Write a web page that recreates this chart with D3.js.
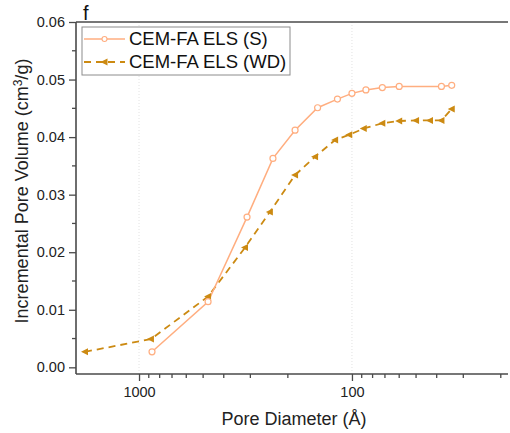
<!DOCTYPE html>
<html>
<head>
<meta charset="utf-8">
<script src="https://cdn.jsdelivr.net/npm/d3@7"></script>
<style>
  body { margin: 0; background: #fff; }
  svg { display: block; font-family: "Liberation Sans", Arial, sans-serif; }
</style>
</head>
<body>
<svg id="chart" width="510" height="433"></svg>
<script>
// pore diameter (Å) vs incremental pore volume (cm3/g)
const seriesNames = ['CEM-FA ELS (S)', 'CEM-FA ELS (WD)'];

const diamS = [869, 474, 311, 235, 185, 145, 117, 100, 86, 72, 60, 38, 34];
const volS  = [0.0027, 0.0114, 0.0261, 0.0363, 0.0412, 0.0451, 0.0466, 0.0476, 0.0482, 0.0486, 0.0488, 0.0488, 0.0490];

const diamWD = [1794, 879, 474, 318, 243, 185, 149, 120, 103, 88, 72, 60, 50, 43, 38, 34];
const volWD  = [0.0027, 0.0049, 0.0123, 0.0208, 0.0270, 0.0334, 0.0366, 0.0395, 0.0404, 0.0415, 0.0424, 0.0428, 0.0429, 0.0429, 0.0429, 0.0449];

const xMajorTicks = [1000, 100];
const yMajorTicks = [0, 0.01, 0.02, 0.03, 0.04, 0.05, 0.06];

const svg = d3.select('#chart');
const plotL = 76, plotR = 508, plotT = 22, plotB = 374;

const x = d3.scaleLog().domain([1977, 18.5]).range([plotL, plotR]);
const y = d3.scaleLinear().domain([-0.00116, 0.06]).range([plotB, plotT]);

const colS = '#ffae80';
const colWD = '#cc8a12';
const axisCol = '#4a4a4a';

// vertical grid at decades
svg.append('g')
  .selectAll('line')
  .data(xMajorTicks)
  .join('line')
  .attr('x1', (d) => x(d)).attr('x2', (d) => x(d))
  .attr('y1', plotT).attr('y2', plotB)
  .attr('stroke', '#e2e2e2').attr('stroke-width', 1)
  .attr('stroke-dasharray', '1,2');

// x minor ticks (2..9 per decade)
const xMinor = [];
for (const base of [10, 100, 1000]) {
  for (let k = 2; k <= 9; k++) {
    const v = base * k;
    if (v > 18.5 && v < 1977 && !xMajorTicks.includes(v)) xMinor.push(v);
  }
}

const xAxis = svg.append('g')
  .attr('transform', `translate(0,${plotB})`)
  .call(d3.axisBottom(x).tickValues(xMajorTicks).tickFormat(d3.format('d')).tickSize(7).tickPadding(6));
xAxis.append('g').selectAll('line')
  .data(xMinor)
  .join('line')
  .attr('x1', (d) => x(d)).attr('x2', (d) => x(d))
  .attr('y1', 0).attr('y2', 4);

const yMinor = d3.range(0.005, 0.06, 0.01);
const yAxis = svg.append('g')
  .attr('transform', `translate(${plotL},0)`)
  .call(d3.axisLeft(y).tickValues(yMajorTicks).tickFormat(d3.format('.2f')).tickSize(7).tickPadding(4));
yAxis.append('g').selectAll('line')
  .data(yMinor)
  .join('line')
  .attr('x1', 0).attr('x2', -4)
  .attr('y1', (d) => y(d)).attr('y2', (d) => y(d));

for (const g of [xAxis, yAxis]) {
  g.select('.domain').attr('stroke', axisCol).attr('stroke-width', 1.6);
  g.selectAll('line').attr('stroke', axisCol).attr('stroke-width', 1.3);
  g.selectAll('text').attr('fill', '#222').style('font-size', '14.5px');
}
// straight spines without end caps
xAxis.select('.domain').attr('d', `M${plotL},0H${plotR}`);
yAxis.select('.domain').attr('d', `M0,${plotT}V${plotB}`);

// top frame line
svg.append('line')
  .attr('x1', plotL).attr('x2', plotR)
  .attr('y1', plotT).attr('y2', plotT)
  .attr('stroke', axisCol).attr('stroke-width', 1.6);

// series
const dataS = diamS.map((d, i) => ({ d, v: volS[i] }));
const dataWD = diamWD.map((d, i) => ({ d, v: volWD[i] }));
const line = d3.line().x((p) => x(p.d)).y((p) => y(p.v));

svg.append('path')
  .datum(dataWD)
  .attr('d', line)
  .attr('fill', 'none')
  .attr('stroke', colWD)
  .attr('stroke-width', 1.8)
  .attr('stroke-dasharray', '7,5');

svg.append('path')
  .datum(dataS)
  .attr('d', line)
  .attr('fill', 'none')
  .attr('stroke', colS)
  .attr('stroke-width', 1.5);

const tri = 'M-4,0L3,-3.5L3,3.5Z';
svg.append('g').selectAll('path')
  .data(dataWD)
  .join('path')
  .attr('transform', (p) => `translate(${x(p.d)},${y(p.v)})`)
  .attr('d', tri)
  .attr('fill', colWD);

svg.append('g').selectAll('circle')
  .data(dataS)
  .join('circle')
  .attr('cx', (p) => x(p.d))
  .attr('cy', (p) => y(p.v))
  .attr('r', 3)
  .attr('fill', '#fff')
  .attr('stroke', colS)
  .attr('stroke-width', 1.2);

// legend
const leg = svg.append('g');
leg.append('rect')
  .attr('x', 82).attr('y', 27)
  .attr('width', 208).attr('height', 48)
  .attr('fill', '#fff')
  .attr('stroke', '#8c8c8c').attr('stroke-width', 1);

const legRows = [
  { name: seriesNames[0], col: colS, dash: null, y: 39 },
  { name: seriesNames[1], col: colWD, dash: '7,5', y: 62 },
];
legRows.forEach((r, i) => {
  leg.append('line')
    .attr('x1', 84).attr('x2', 125)
    .attr('y1', r.y).attr('y2', r.y)
    .attr('stroke', r.col)
    .attr('stroke-width', i === 0 ? 1.5 : 1.8)
    .attr('stroke-dasharray', r.dash);
  if (i === 0) {
    leg.append('circle')
      .attr('cx', 104.5).attr('cy', r.y).attr('r', 2.5)
      .attr('fill', '#fff').attr('stroke', r.col).attr('stroke-width', 1.1);
  } else {
    leg.append('path')
      .attr('transform', `translate(104.5,${r.y})`)
      .attr('d', tri).attr('fill', r.col);
  }
  leg.append('text')
    .attr('x', 129).attr('y', r.y)
    .attr('dy', '0.35em')
    .attr('fill', '#111')
    .style('font-size', '18.5px')
    .text(r.name);
});

// panel letter
svg.append('text')
  .attr('x', 83).attr('y', 20)
  .attr('fill', '#111')
  .style('font-size', '20px')
  .text('f');

// axis titles
svg.append('text')
  .attr('x', 294).attr('y', 425)
  .attr('text-anchor', 'middle')
  .attr('fill', '#222')
  .style('font-size', '18px')
  .text('Pore Diameter (Å)');

const yt = svg.append('text')
  .attr('transform', 'translate(28,191) rotate(-90)')
  .attr('text-anchor', 'middle')
  .attr('fill', '#222')
  .style('font-size', '18px');
yt.append('tspan').text('Incremental Pore Volume (cm');
yt.append('tspan').attr('dy', -6).style('font-size', '12px').text('3');
yt.append('tspan').attr('dy', 6).text('/g)');
</script>
</body>
</html>
